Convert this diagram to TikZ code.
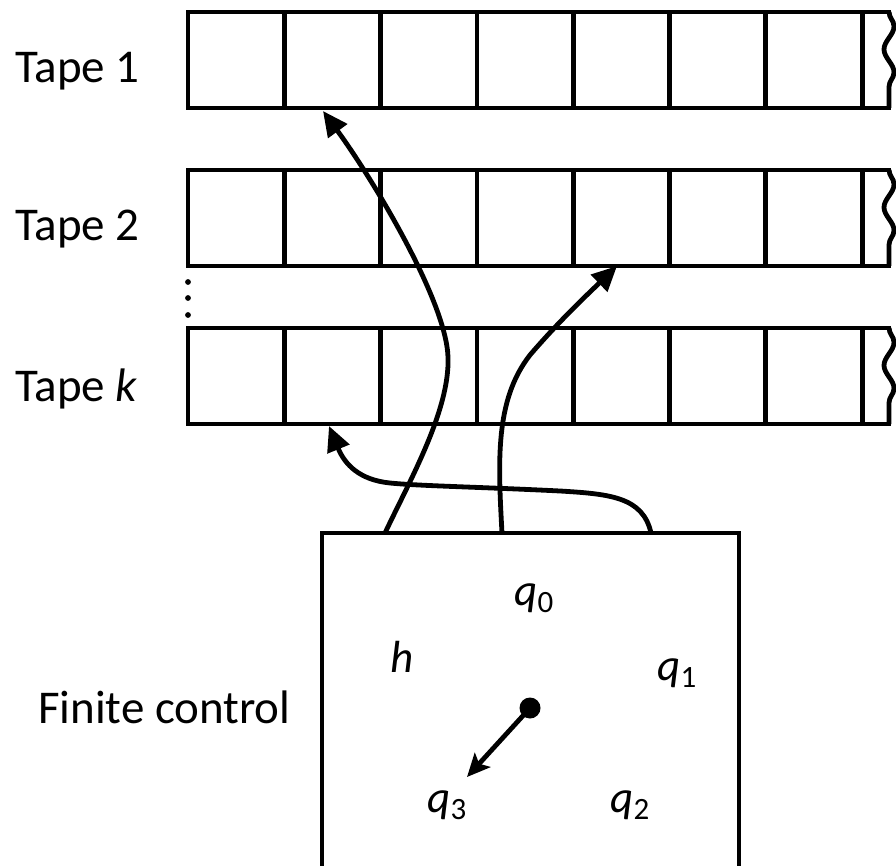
\documentclass[tikz,border=0pt]{standalone}
\usepackage{fontspec}
\setmainfont{Carlito}
\usetikzlibrary{arrows.meta,decorations.pathmorphing}
\newcommand{\qsub}[1]{\textit{q}\raisebox{-7pt}{\fontsize{31}{31}\selectfont #1}}
\begin{document}
\begin{tikzpicture}[x=1pt,y=-1pt,
  line width=4.8pt,
  lbl/.style={font=\fontsize{47}{56}\selectfont, inner sep=0pt, anchor=base west},
  qlbl/.style={font=\fontsize{45}{54}\selectfont, inner sep=0pt, anchor=base west},
  tapeline/.style={line width=4.8pt, line cap=rect},
  wavy/.style={line width=4.8pt, decorate, decoration={snake, amplitude=5pt, segment length=46pt}},
  conn/.style={line width=4.8pt, -{Triangle[length=25pt,width=23pt]}},
  dotstyle/.style={circle, fill=black, inner sep=0pt, minimum size=21pt}
]
\useasboundingbox (0,0) rectangle (896,866);

% tapes
\foreach \t/\top in {1/12, 2/170, 3/328}{
  \draw[tapeline] (889,\top) -- (188,\top) -- (188,\top+96) -- (889,\top+96);
  \foreach \i in {1,...,7}{
    \draw (188+\i*96.3,\top) -- (188+\i*96.3,\top+96);
  }
  \draw[wavy] (889,\top) -- (889,\top+96);
}

% dots
\foreach \yy in {282,298,315}{
  \fill (188,\yy) circle (2.9pt);
}

% labels
\node[lbl] (t1) at (13,83) {Tape 1};
\node[lbl] (t2) at (13,241) {Tape 2};
\node[lbl] (tk) at (13,401) {Tape \textit{k}};
\node[lbl, anchor=base east] (fc) at (293,723) {Finite control};

% finite control box
\draw (322,870) -- (322,533) -- (739,533) -- (739,870);

\node[qlbl] (q0) at (512,605) {\qsub{0}};
\node[qlbl] (h) at (388,672) {\textit{h}};
\node[qlbl] (q1) at (655,680) {\qsub{1}};
\node[qlbl] (q3) at (425,812) {\qsub{3}};
\node[qlbl] (q2) at (608,812) {\qsub{2}};
\node[dotstyle] (hand) at (530,708) {};
\coordinate (handtip) at (467,777);
\draw[line width=4.8pt, -{Stealth[length=23pt,width=21pt,inset=5pt]}] (hand.center) -- (handtip);

% connector endpoints
\coordinate (sA) at (385,533);
\coordinate (eA) at (323,111);
\coordinate (sB) at (502,533);
\coordinate (eB) at (617,266);
\coordinate (sC) at (651,533);
\coordinate (eC) at (329,426);

\draw[conn] (sA) .. controls (410,480) and (450,410) .. (448,357)
  .. controls (446,300) and (372,178) .. (eA);
\draw[conn] (sB) .. controls (498,460) and (495,400) .. (530,355)
  .. controls (560,320) and (590,292) .. (eB);
\draw[conn] (sC) .. controls (643,497) and (610,494) .. (560,491)
  .. controls (480,487) and (420,486) .. (390,483)
  .. controls (360,480) and (345,465) .. (eC);
\end{tikzpicture}
\end{document}
